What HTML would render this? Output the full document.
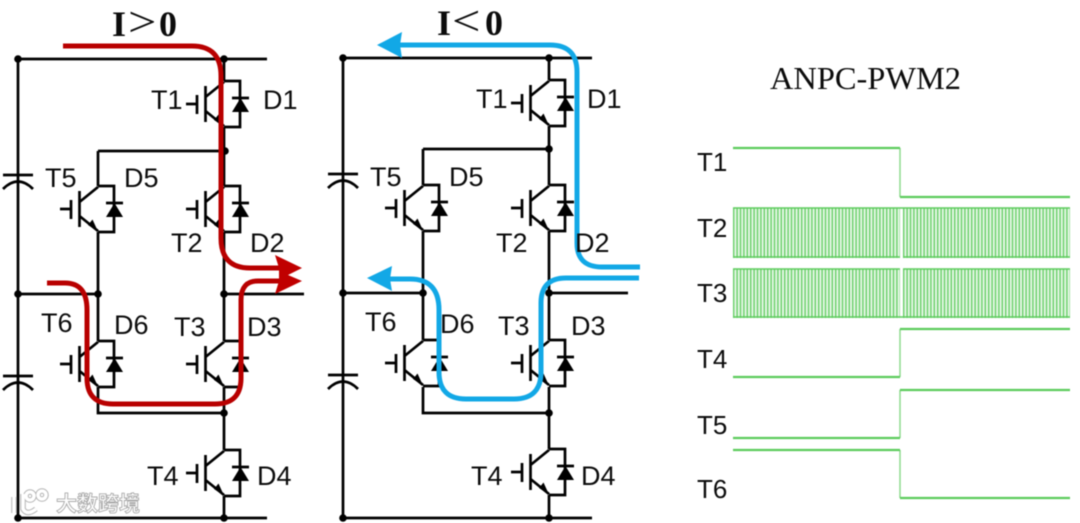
<!DOCTYPE html>
<html>
<head>
<meta charset="utf-8">
<style>
html,body{margin:0;padding:0;background:#fff;width:1080px;height:523px;overflow:hidden}
svg{display:block;filter:blur(.4px)}
.l{font-family:"Liberation Sans",sans-serif;font-size:27px;fill:#0c0c0c}
.s{font-family:"Liberation Serif",serif;fill:#0c0c0c}
.w{fill:none;stroke:#000;stroke-width:2.700}
.g{fill:none;stroke:#5ccb5c;stroke-width:2.200}
</style>
</head>
<body>
<svg width="1080" height="523" viewBox="0 0 1080 523" xmlns="http://www.w3.org/2000/svg">
<defs>
<g id="q">
<path class="w" d="M0 0H16V46H0"/>
<path class="w" d="M-38 23H-27M-27 14V33M-18.500 5V41M-18.500 16L0 1M-18.500 30L0 45"/>
<path d="M0 45.500L-10 39L-5.500 33.500Z" fill="#000"/>
<path d="M8 31H25L16.500 17Z" fill="#000"/>
<path class="w" d="M8 17H25"/>
</g>
<g id="dot"><circle r="3.800" fill="#000"/></g>
<g id="cap"><path class="w" d="M-15 0H15M-15 14Q0 -1 15 14"/></g>
</defs>

<!-- left circuit -->
<path class="w" d="M18 59H267M18 59V518M18 518H267M224 59V81M224 127V186M98 151H224M98 151V186M98 232V341M224 232V341M18 294H98M224 294H304M98 387V413H224M224 387V450M224 496V518"/>
<use href="#q" x="224" y="81"/><use href="#q" x="98" y="186"/><use href="#q" x="224" y="186"/>
<use href="#q" x="98" y="341"/><use href="#q" x="224" y="341"/><use href="#q" x="224" y="450"/>
<use href="#dot" x="18" y="59"/><use href="#dot" x="224" y="59"/><use href="#dot" x="225" y="151"/>
<use href="#dot" x="18" y="294"/><use href="#dot" x="98" y="294"/><use href="#dot" x="224" y="294"/>
<use href="#dot" x="224" y="413"/><use href="#dot" x="18" y="518"/><use href="#dot" x="224" y="518"/>
<use href="#cap" x="18" y="175"/><use href="#cap" x="18" y="376"/>

<!-- right circuit -->
<path class="w" d="M343 58H592M343 58V518M343 518H592M549 58V80M549 126V185M423 149H549M423 149V185M423 231V340M549 231V340M343 293H423M549 293H628M423 387V413H549M549 387V449M549 495V518"/>
<use href="#q" x="549" y="80"/><use href="#q" x="423" y="185"/><use href="#q" x="549" y="185"/>
<use href="#q" x="423" y="340"/><use href="#q" x="549" y="340"/><use href="#q" x="549" y="449"/>
<use href="#dot" x="343" y="58"/><use href="#dot" x="549" y="58"/><use href="#dot" x="549" y="149"/>
<use href="#dot" x="343" y="293"/><use href="#dot" x="423" y="293"/><use href="#dot" x="549" y="293"/>
<use href="#dot" x="549" y="413"/><use href="#dot" x="343" y="518"/><use href="#dot" x="549" y="518"/>
<use href="#cap" x="343" y="174"/><use href="#cap" x="343" y="375"/>

<!-- current paths -->
<g fill="none" stroke="#b80000" stroke-width="5">
<path d="M63 46H192Q221 46 221 76V238Q221 268 250 268H280"/>
<path d="M280 281H258Q241 281 241 300V378Q241 404 215 404H113Q87 404 87 378V310Q87 283 65 283H47"/>
</g>
<path d="M275 255L302 268L288 275L302 281L275 294L279 281V268Z" fill="#c00000"/>
<g fill="none" stroke="#12a8e6" stroke-width="5">
<path d="M395 45H550Q577 45 577 72V243Q577 267 602 267H640"/>
<path d="M639 278H566Q541 278 541 303V372Q541 399 514 399H466Q439 399 439 372V310Q439 279 410 279H385"/>
</g>
<path d="M377 45L402 32L400 45L402 58Z" fill="#12a8e6"/>
<path d="M367 278L392 266L390 279L392 291Z" fill="#12a8e6"/>

<!-- circuit labels -->
<g class="l">
<text x="151" y="109">T1</text><text x="263" y="109">D1</text>
<text x="45" y="187">T5</text><text x="124" y="187">D5</text>
<text x="171" y="252">T2</text><text x="250" y="252">D2</text>
<text x="41" y="332">T6</text><text x="114" y="334">D6</text>
<text x="174" y="336">T3</text><text x="247" y="336">D3</text>
<text x="147" y="485">T4</text><text x="257" y="485">D4</text>
<text x="476" y="108">T1</text><text x="587" y="108">D1</text>
<text x="370" y="186">T5</text><text x="449" y="186">D5</text>
<text x="496" y="252">T2</text><text x="575" y="252">D2</text>
<text x="365" y="331">T6</text><text x="440" y="333">D6</text>
<text x="498" y="335">T3</text><text x="571" y="335">D3</text>
<text x="471" y="485">T4</text><text x="581" y="485">D4</text>
</g>

<!-- titles -->
<text class="s" x="112" y="36" font-size="36" font-weight="bold">I</text>
<text class="s" transform="translate(128,36) scale(1.2,1)" font-size="42">&gt;</text>
<text class="s" x="159" y="36" font-size="36" font-weight="bold">0</text>
<text class="s" x="437" y="35" font-size="36" font-weight="bold">I</text>
<text class="s" transform="translate(452,35) scale(1.2,1)" font-size="42">&lt;</text>
<text class="s" x="485" y="35" font-size="36" font-weight="bold">0</text>
<text class="s" x="770" y="89" font-size="32" textLength="191" lengthAdjust="spacingAndGlyphs">ANPC-PWM2</text>

<!-- waveform labels -->
<g class="l" style="font-size:26px">
<text x="697" y="171">T1</text><text x="697" y="237">T2</text><text x="697" y="302">T3</text>
<text x="697" y="368">T4</text><text x="697" y="434">T5</text><text x="697" y="498">T6</text>
</g>

<!-- waveforms -->
<path class="g" d="M733 148H900M900 197H1070M733 377H900M900 329H1070M733 438H900M900 390H1070M733 450H900M900 498H1070"/>
<path fill="none" stroke="#5ccb5c" stroke-width="1.500" stroke-opacity=".7" d="M900 148V197M900 329V377M900 390V438M900 450V498"/>
<path fill="#5ccb5c" fill-opacity=".16" d="M733 208H900V258H733ZM903 208H1070V258H903ZM733 269H900V318H733ZM903 269H1070V318H903Z"/>
<g fill="none" stroke="#5ccb5c">
<path d="M733 233H900M903 233H1070" stroke-width="50" stroke-dasharray="1.400 2" stroke-opacity=".9"/>
<path d="M733 293.500H900M903 293.500H1070" stroke-width="49" stroke-dasharray="1.400 2" stroke-opacity=".9"/>
<path d="M733 208H1070M733 257H900M903 257H1070M733 269H900M903 269H1070M733 317H1070" stroke-width="1.500"/>
</g>

<!-- watermark -->
<g fill="none" stroke="#b4b4b4" stroke-width="5.500">
<path d="M14 497V513M23 494V509Q27 516 36 509"/>
<circle cx="30" cy="496" r="4"/><circle cx="42" cy="495" r="4"/>
</g>
<g fill="none" stroke="#fff" stroke-width="3.500">
<path d="M14 497V513M23 494V509Q27 516 36 509"/>
<circle cx="30" cy="496" r="4"/><circle cx="42" cy="495" r="4"/>
</g>
<text x="56" y="511" font-family="'Liberation Sans','Noto Sans CJK SC',sans-serif" font-size="21" font-weight="bold" fill="#fff" stroke="#aaa" stroke-width=".9">大数跨境</text>
</svg>
</body>
</html>
